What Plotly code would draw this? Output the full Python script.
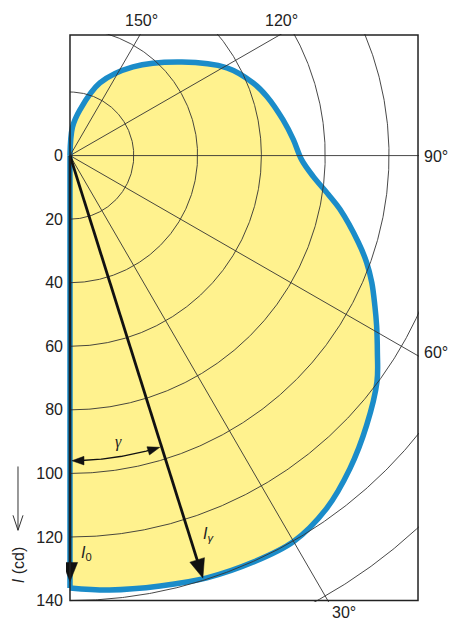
import numpy as np
import plotly.graph_objects as go

# ---------------- data ----------------
GAMMA_DEG = [0, 5.2, 11.8, 17.9, 24.2, 30.0, 35.9, 41.7, 47.6, 53.5, 57.3, 60.9,
             63.7, 67.1, 70.1, 73.2, 78.7, 81.4, 85.1, 89.0, 94.1, 99.6, 106.7,
             111.7, 119.3, 130.0, 144.7, 157.7, 167.7, 175.0, 180.0]
INTENSITY_CD = [136.0, 137.2, 138.3, 139.6, 140.2, 140.2, 137.1, 131.9, 125.9,
                119.7, 114.5, 110.0, 106.6, 102.7, 98.9, 94.4, 86.3, 81.9, 76.5,
                72.6, 70.2, 67.7, 64.5, 61.8, 56.4, 45.8, 34.2, 24.7, 14.8, 9.0, 0.0]

Y_TICKS = [0, 20, 40, 60, 80, 100, 120, 140]
Y_TICK_LABELS = ["0", "20", "40", "60", "80", "100", "120", "140"]
RING_RADII = [20, 40, 60, 80, 100, 120, 140, 160]
SPOKE_ANGLES = [30, 60, 90, 120, 150]
SPOKE_LABELS = ["30°", "60°", "90°", "120°", "150°"]

I0_ARROW = 134.0          # length of the I0 arrow (cd)
GAMMA_EXAMPLE = 17.4      # angle of the I_gamma arrow (deg)
I_GAMMA_ARROW = 139.3     # length of the I_gamma arrow (cd)
ARC_RADIUS = 96.0         # radius of the gamma arc (cd)

# ---------------- styles ----------------
BLUE = "#1b8cc9"
YELLOW = "#fff28e"
GRID = "#333333"
INK = "#111111"
TEXT = "#222222"
FONT = "Liberation Sans, Arial, sans-serif"

X_RANGE = [-1.25, 109.4]
Y_RANGE = [140.44, -38.25]
BOX_X = (0.0, 109.09)
BOX_Y = (-37.93, 140.0)


def polar_xy(g_deg, r):
    g = np.radians(np.asarray(g_deg, dtype=float))
    r = np.asarray(r, dtype=float)
    return r * np.sin(g), r * np.cos(g)


def head(tip_x, tip_y, dx, dy, length, half_w):
    n = np.hypot(dx, dy)
    dx, dy = dx / n, dy / n
    bx, by = tip_x - length * dx, tip_y - length * dy
    nx, ny = -dy, dx
    return ([tip_x, bx + half_w * nx, bx - half_w * nx, tip_x, None],
            [tip_y, by + half_w * ny, by - half_w * ny, tip_y, None])


fig = go.Figure()

# luminous intensity curve (filled)
cx, cy = polar_xy(GAMMA_DEG, INTENSITY_CD)
fig.add_trace(go.Scatter(x=cx, y=cy, mode="lines", fill="toself", fillcolor=YELLOW,
                         line=dict(color=BLUE, width=5.5, shape="spline", smoothing=1),
                         hoverinfo="skip"))
fig.add_trace(go.Scatter(x=[0, 0], y=[0, INTENSITY_CD[0]], mode="lines",
                         line=dict(color=BLUE, width=5.5), hoverinfo="skip"))

# polar grid: rings
th = np.linspace(0, 180, 721)
gx, gy = [], []
for r in RING_RADII:
    x, y = polar_xy(th, np.full_like(th, r))
    gx += list(x) + [None]
    gy += list(y) + [None]
fig.add_trace(go.Scatter(x=gx, y=gy, mode="lines",
                         line=dict(color=GRID, width=0.9), hoverinfo="skip"))
# spokes
sx, sy = [], []
for a in SPOKE_ANGLES:
    x, y = polar_xy([0, a], [0, 250])
    sx += list(x) + [None]
    sy += list(y) + [None]
fig.add_trace(go.Scatter(x=sx, y=sy, mode="lines",
                         line=dict(color=GRID, width=0.9), hoverinfo="skip"))

# arrows I0 and I_gamma
BIG_L, BIG_W = 6.0, 2.4
hx, hy = [], []
fig.add_trace(go.Scatter(x=[0, 0], y=[0, I0_ARROW - BIG_L * 0.7], mode="lines",
                         line=dict(color=INK, width=2.6), hoverinfo="skip"))
x, y = head(0, I0_ARROW, 0, 1, BIG_L, BIG_W)
hx += x; hy += y
gtx, gty = polar_xy(GAMMA_EXAMPLE, I_GAMMA_ARROW)
gbx, gby = polar_xy(GAMMA_EXAMPLE, I_GAMMA_ARROW - BIG_L * 0.7)
fig.add_trace(go.Scatter(x=[0, float(gbx)], y=[0, float(gby)], mode="lines",
                         line=dict(color=INK, width=2.8), hoverinfo="skip"))
gr = np.radians(GAMMA_EXAMPLE)
x, y = head(float(gtx), float(gty), np.sin(gr), np.cos(gr), BIG_L, BIG_W)
hx += x; hy += y

# gamma arc with two heads
SM_L, SM_W = 3.8, 1.35
g_left, g_right = 0.35, GAMMA_EXAMPLE - 0.35
dg = np.degrees(SM_L / ARC_RADIUS)
ag = np.linspace(g_left + dg * 0.8, g_right - dg * 0.8, 80)
ax_, ay_ = polar_xy(ag, np.full_like(ag, ARC_RADIUS))
fig.add_trace(go.Scatter(x=ax_, y=ay_, mode="lines",
                         line=dict(color=INK, width=1.4), hoverinfo="skip"))
lx, ly = polar_xy(g_left, ARC_RADIUS)
gl = np.radians(g_left)
x, y = head(float(lx), float(ly), -np.cos(gl), np.sin(gl), SM_L, SM_W)
hx += x; hy += y
rx, ry = polar_xy(g_right, ARC_RADIUS)
grr = np.radians(g_right)
x, y = head(float(rx), float(ry), np.cos(grr), -np.sin(grr), SM_L, SM_W)
hx += x; hy += y
fig.add_trace(go.Scatter(x=hx, y=hy, mode="lines", fill="toself", fillcolor=INK,
                         line=dict(color=INK, width=0.5), hoverinfo="skip"))

# ---------------- annotations ----------------
ann = []
for a, lab in zip(SPOKE_ANGLES, SPOKE_LABELS):
    s, c = np.sin(np.radians(a)), np.cos(np.radians(a))
    cands = []
    if s > 1e-9:
        cands.append(BOX_X[1] / s)
    if c > 1e-9:
        cands.append(BOX_Y[1] / c)
    if c < -1e-9:
        cands.append(BOX_Y[0] / c)
    t = min(cands)
    px, py = t * s, t * c
    if abs(py - BOX_Y[0]) < 1e-6:      # top edge
        ann.append(dict(x=px, y=py, text=lab, xanchor="center", yanchor="middle",
                        yshift=15, xshift=2, showarrow=False))
    elif abs(px - BOX_X[1]) < 1e-6:    # right edge
        ann.append(dict(x=px, y=py, text=lab, xanchor="left", yanchor="middle",
                        xshift=4, yshift=3 if a < 90 else -1, showarrow=False))
    else:                               # bottom edge
        ann.append(dict(x=px, y=py, text=lab, xanchor="center", yanchor="middle",
                        xshift=16, yshift=-12, showarrow=False))

ann.append(dict(x=0, y=I0_ARROW * 0.935, text="<i>I</i><sub>0</sub>", xanchor="left",
                yanchor="middle", xshift=9, showarrow=False,
                font=dict(size=16, color=TEXT, family=FONT)))
lgx, lgy = polar_xy(GAMMA_EXAMPLE, 125)
ann.append(dict(x=float(lgx), y=float(lgy), text="<i>I</i><sub><i>γ</i></sub>",
                xanchor="center", yanchor="middle", xshift=19, showarrow=False,
                font=dict(size=16, color=TEXT, family=FONT)))
ggx, ggy = polar_xy(GAMMA_EXAMPLE * 0.55, 91.5)
ann.append(dict(x=float(ggx), y=float(ggy), text="<i>γ</i>", xanchor="center",
                yanchor="middle", showarrow=False,
                font=dict(size=16, color=TEXT, family="Liberation Serif, serif")))
ann.append(dict(xref="paper", yref="paper", x=-0.136, y=0.0649, text="<i>I</i> (cd)",
                textangle=-90, xanchor="center", yanchor="middle", showarrow=False,
                font=dict(size=16, color=TEXT, family=FONT)))

shapes = [
    dict(type="rect", xref="x", yref="y", x0=BOX_X[0], x1=BOX_X[1], y0=BOX_Y[0],
         y1=BOX_Y[1], line=dict(color="#222222", width=1.5), layer="above"),
    dict(type="line", xref="paper", yref="paper", x0=-0.136, x1=-0.136, y0=0.2386,
         y1=0.1263, line=dict(color="#333333", width=1)),
    dict(type="line", xref="paper", yref="paper", x0=-0.1501, x1=-0.136, y0=0.1526,
         y1=0.1263, line=dict(color="#333333", width=1)),
    dict(type="line", xref="paper", yref="paper", x0=-0.1218, x1=-0.136, y0=0.1526,
         y1=0.1263, line=dict(color="#333333", width=1)),
]

fig.update_layout(
    width=452, height=621,
    margin=dict(l=66, r=33, t=34, b=17),
    paper_bgcolor="white", plot_bgcolor="white",
    showlegend=False,
    font=dict(family=FONT, size=16, color=TEXT),
    annotations=ann, shapes=shapes,
    xaxis=dict(range=X_RANGE, showgrid=False, zeroline=False, showline=False,
               showticklabels=False, ticks="", fixedrange=True),
    yaxis=dict(range=Y_RANGE, showgrid=False, zeroline=False, showline=False,
               tickmode="array", tickvals=Y_TICKS, ticktext=Y_TICK_LABELS, ticks="",
               tickfont=dict(size=16, color=TEXT, family=FONT), ticklabelstandoff=2,
               fixedrange=True),
)

# remove the default 8 px page margin so the figure fills the 452x621 window
fig.write_html("out.html",
               config={"displayModeBar": False, "staticPlot": True},
               post_script="document.body.style.margin='0';"
                           "document.body.style.overflow='hidden';")
